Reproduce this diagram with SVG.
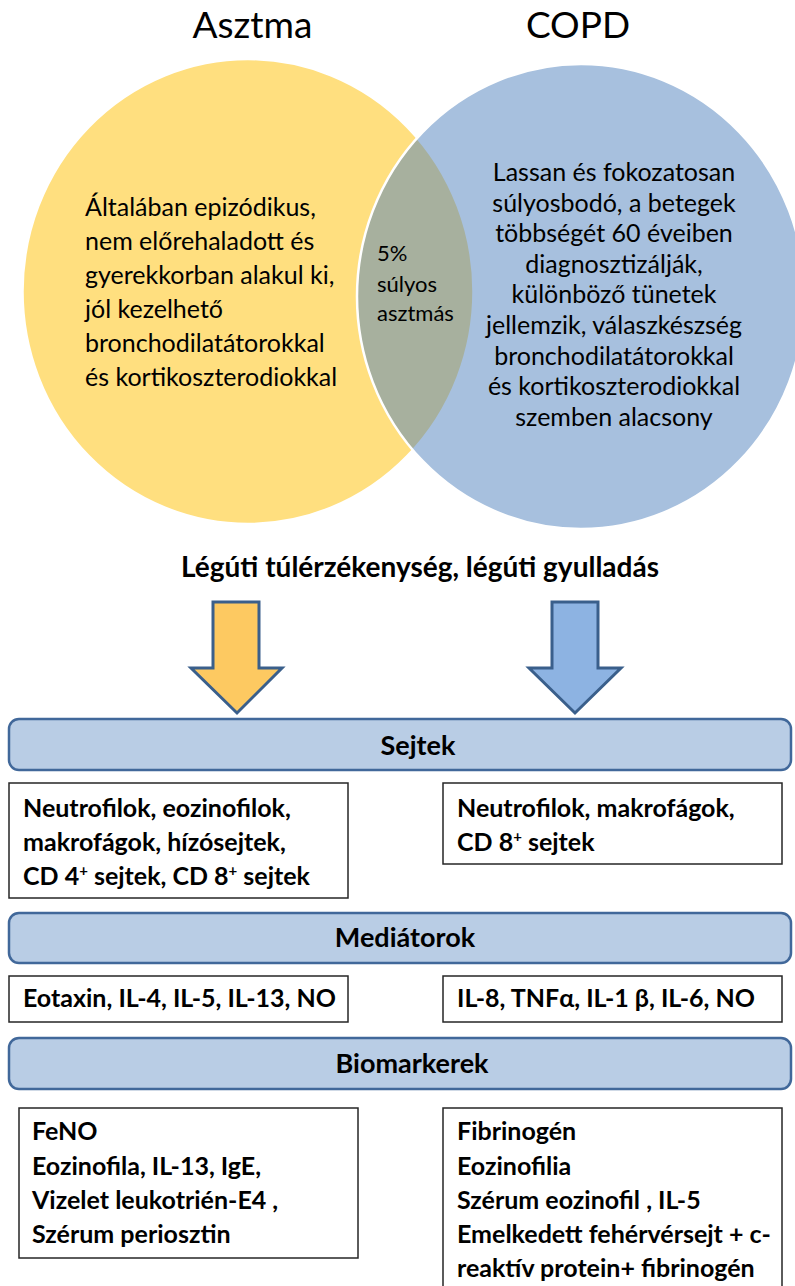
<svg xmlns="http://www.w3.org/2000/svg" width="795" height="1286" viewBox="0 0 795 1286">
<style>
text{font-family:Lato,"Noto Sans","DejaVu Sans",sans-serif;fill:#000}
.t{font-size:37px}
.v{font-size:25px}
.m{font-size:22px}
.b{font-size:25px;font-weight:bold}
.h{font-size:27px;font-weight:bold}
.bar{fill:#B9CDE5;stroke:#41689A;stroke-width:2.5}
.box{fill:#fff;stroke:#262626;stroke-width:1.5}
.arr{stroke:#3A5F8B;stroke-width:3;stroke-linejoin:miter}
.sup{font-size:15px}
</style>
<rect width="795" height="1286" fill="#fff"/>
<g id="venn">
<ellipse id="asztma" cx="248" cy="291.5" rx="225.5" ry="232.5" fill="#FFC000" fill-opacity="0.5" stroke="#fff" stroke-width="2.5"/>
<ellipse id="copd" cx="581" cy="296.5" rx="224" ry="232.5" fill="#4F81BD" fill-opacity="0.5" stroke="#fff" stroke-width="2.5"/>
</g>
<g id="title-asztma"><text class="t" x="252.5" y="38" text-anchor="middle">Asztma</text></g>
<g id="title-copd"><text class="t" x="578" y="38" text-anchor="middle">COPD</text></g>
<g id="text-asztma">
<text class="v" x="85" y="216">Általában epizódikus,</text>
<text class="v" x="85" y="250">nem előrehaladott és</text>
<text class="v" x="85" y="284">gyerekkorban alakul ki,</text>
<text class="v" x="85" y="318">jól kezelhető</text>
<text class="v" x="85" y="352">bronchodilatátorokkal</text>
<text class="v" x="85" y="386">és kortikoszterodiokkal</text>
</g>
<g id="text-overlap">
<text class="m" x="377" y="261">5%</text>
<text class="m" x="377" y="292">súlyos</text>
<text class="m" x="377" y="321">asztmás</text>
</g>
<g id="text-copd" text-anchor="middle">
<text class="v" x="614" y="181">Lassan és fokozatosan</text>
<text class="v" x="614" y="211.6">súlyosbodó, a betegek</text>
<text class="v" x="614" y="242.2">többségét 60 éveiben</text>
<text class="v" x="614" y="272.8">diagnosztizálják,</text>
<text class="v" x="614" y="303.4">különböző tünetek</text>
<text class="v" x="614" y="334">jellemzik, válaszkészség</text>
<text class="v" x="614" y="364.6">bronchodilatátorokkal</text>
<text class="v" x="614" y="395.2">és kortikoszterodiokkal</text>
<text class="v" x="614" y="425.8">szemben alacsony</text>
</g>
<g id="heading"><text x="420" y="577" text-anchor="middle" style="font-size:28px;font-weight:bold">Légúti túlérzékenység, légúti gyulladás</text></g>
<g id="connectors">
<polygon class="arr" fill="#FDC961" points="213,602 259,602 259,668 282,668 237,713 191,668 213,668"/>
<polygon class="arr" fill="#8DB3E2" points="552,602 598,602 598,668 621,668 575,713 529,668 552,668"/>
</g>
<g id="bar-sejtek">
<rect class="bar" x="9" y="719" width="782" height="51" rx="10"/>
<text class="h" x="418" y="755" text-anchor="middle">Sejtek</text>
</g>
<g id="box-sejtek-asztma">
<rect class="box" x="9" y="783" width="339" height="115"/>
<text class="b" x="23" y="817">Neutrofilok, eozinofilok,</text>
<text class="b" x="23" y="851">makrofágok, hízósejtek,</text>
<text class="b" x="23" y="885">CD 4<tspan class="sup" dy="-9">+</tspan><tspan dy="9"> sejtek, CD 8</tspan><tspan class="sup" dy="-9">+</tspan><tspan dy="9"> sejtek</tspan></text>
</g>
<g id="box-sejtek-copd">
<rect class="box" x="443" y="783" width="339" height="81"/>
<text class="b" x="457" y="817">Neutrofilok, makrofágok,</text>
<text class="b" x="457" y="851">CD 8<tspan class="sup" dy="-9">+</tspan><tspan dy="9"> sejtek</tspan></text>
</g>
<g id="bar-mediatorok">
<rect class="bar" x="9" y="913" width="782" height="50" rx="10"/>
<text class="h" x="405" y="947" text-anchor="middle">Mediátorok</text>
</g>
<g id="box-med-asztma">
<rect class="box" x="9" y="976" width="339" height="46"/>
<text class="b" x="23" y="1007">Eotaxin, IL-4, IL-5, IL-13, NO</text>
</g>
<g id="box-med-copd">
<rect class="box" x="443" y="976" width="339" height="46"/>
<text class="b" x="457" y="1007">IL-8, TNFα, IL-1 β, IL-6, NO</text>
</g>
<g id="bar-biomarkerek">
<rect class="bar" x="9" y="1038" width="782" height="51" rx="10"/>
<text class="h" x="412" y="1073" text-anchor="middle">Biomarkerek</text>
</g>
<g id="box-bio-asztma">
<rect class="box" x="19" y="1108" width="339" height="150"/>
<text class="b" x="32" y="1140">FeNO</text>
<text class="b" x="32" y="1175">Eozinofila, IL-13, IgE,</text>
<text class="b" x="32" y="1209">Vizelet leukotrién-E4 ,</text>
<text class="b" x="32" y="1243">Szérum periosztin</text>
</g>
<g id="box-bio-copd">
<rect class="box" x="443" y="1108" width="339" height="200"/>
<text class="b" x="457" y="1140">Fibrinogén</text>
<text class="b" x="457" y="1175">Eozinofilia</text>
<text class="b" x="457" y="1209">Szérum eozinofil , IL-5</text>
<text class="b" x="457" y="1243">Emelkedett fehérvérsejt + c-</text>
<text class="b" x="457" y="1277">reaktív protein+ fibrinogén</text>
</g>
</svg>
